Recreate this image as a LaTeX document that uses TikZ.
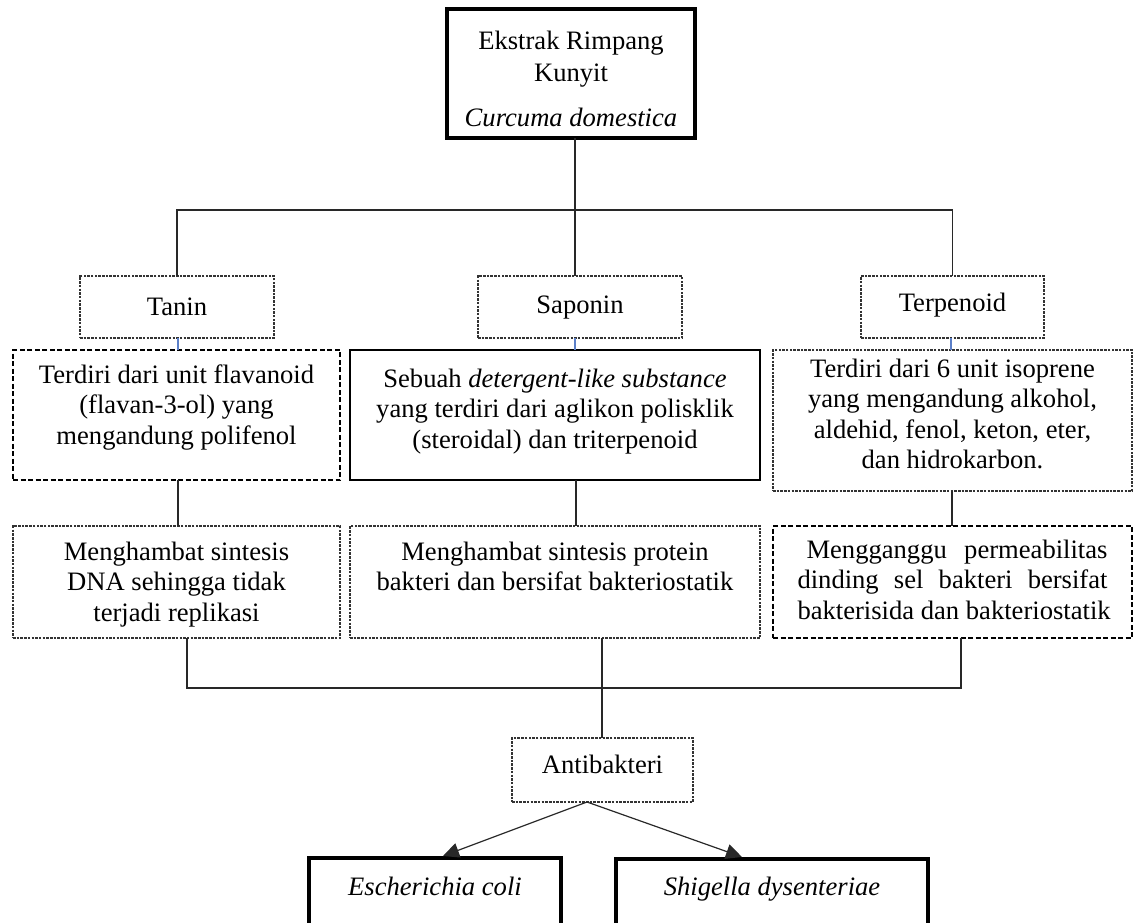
\documentclass[tikz,border=0pt]{standalone}
\usepackage{fontspec}
\setmainfont{Liberation Serif}
\usetikzlibrary{arrows.meta}
\definecolor{linegray}{HTML}{282828}
\definecolor{dotgray}{HTML}{333333}
\definecolor{blueline}{HTML}{5B7FC8}
\newcommand{\bt}[4]{\parbox[c][#2pt][t]{#1pt}{\centering\fontsize{26.6}{30.5}\selectfont\rule{0pt}{#3pt}#4\par}}
\tikzset{
  base/.style={inner sep=0pt, outer sep=0pt, anchor=north west},
  thinbox/.style={base, draw=dotgray, line width=1.2pt, dash pattern=on 2.5pt off 1.2pt},
  heavydash/.style={base, draw=black, line width=1.9pt, dash pattern=on 5pt off 2.5pt},
  solidbox/.style={base, draw=black, line width=1.5pt},
  thickbox/.style={base, draw=black, line width=3.8pt},
  conn/.style={draw=linegray, line width=1.2pt},
  bconn/.style={draw=blueline, line width=1.2pt},
  arr/.style={conn, -{Triangle[length=16pt,width=15pt]}}
}
\begin{document}
\begin{tikzpicture}[x=1pt,y=-1pt]
\useasboundingbox (0,0) rectangle (1135,923);
\clip (0,0) rectangle (1135,923);
% top
\node[thickbox] (top) at (447,9) {\bt{248}{129}{41}{Ekstrak Rimpang\\[1.5pt]Kunyit\\[14pt]\textit{Curcuma domestica}}};
% compounds
\node[thinbox] (tanin) at (80,276) {\bt{194}{62}{39}{Tanin}};
\node[thinbox] (sap) at (478,276) {\bt{204}{62}{37}{Saponin}};
\node[thinbox] (terp) at (861,276) {\bt{183}{62}{35}{Terpenoid}};
% descriptions
\node[heavydash] (tanind) at (13,350) {\bt{327}{130}{33}{Terdiri dari unit flavanoid\\(flavan-3-ol) yang\\mengandung polifenol}};
\node[solidbox] (sapd) at (350,350) {\bt{410}{130}{37}{Sebuah \textit{detergent-like substance}\\yang terdiri dari aglikon polisklik\\(steroidal) dan triterpenoid}};
\node[thinbox] (terpd) at (773,350) {\bt{359}{141}{27}{Terdiri dari 6 unit isoprene\\yang mengandung alkohol,\\aldehid, fenol, keton, eter,\\dan hidrokarbon.}};
% effects
\node[thinbox] (tanine) at (13,526) {\bt{327}{112}{34}{Menghambat sintesis\\DNA sehingga tidak\\terjadi replikasi}};
\node[thinbox] (sape) at (350,526) {\bt{410}{112}{34}{Menghambat sintesis protein\\bakteri dan bersifat bakteriostatik}};
\node[heavydash] (terpe) at (773,526) {\bt{359}{112}{32}{\makebox[310pt][s]{\hspace{9pt}Mengganggu\hfill permeabilitas}\\\makebox[310pt][s]{dinding\hfill sel\hfill bakteri\hfill bersifat}\\\makebox[310pt][l]{bakterisida dan bakteriostatik}}};
% result
\node[thinbox] (antib) at (512,738) {\bt{181}{64}{35}{Antibakteri}};
\node[thickbox] (ecoli) at (309,858) {\bt{252}{130}{37}{\textit{Escherichia coli}}};
\node[thickbox] (shig) at (616,859) {\bt{312}{130}{36}{\textit{Shigella dysenteriae}}};
% connectors
\coordinate (hubA) at (575,210);
\coordinate (hubB) at (602,688);
\coordinate (aout) at (587,802);
\coordinate (ein) at (443,856);
\coordinate (sin) at (742,857);
\draw[conn] (top.south -| hubA) -- (hubA);
\draw[conn] (tanin.north) |- (hubA);
\draw[conn] (hubA) -| (terp.north);
\draw[conn] (hubA) -- (hubA |- sap.north);
\draw[bconn] (tanin.south -| 178,0) -- (tanind.north -| 178,0);
\draw[bconn] (sap.south -| hubA) -- (sapd.north -| hubA);
\draw[bconn] (terp.south -| 951,0) -- (terpd.north -| 951,0);
\draw[conn] (tanind.south -| 178,0) -- (tanine.north -| 178,0);
\draw[conn] (sapd.south -| 576,0) -- (sape.north -| 576,0);
\draw[conn] (terpd.south -| 952,0) -- (terpe.north -| 952,0);
\draw[conn] (tanine.south -| 187,0) |- (hubB);
\draw[conn] (terpe.south -| 961,0) |- (hubB);
\draw[conn] (sape.south -| hubB) -- (antib.north -| hubB);
\draw[arr] (aout) -- (ein);
\draw[arr] (aout) -- (sin);
\end{tikzpicture}
\end{document}
